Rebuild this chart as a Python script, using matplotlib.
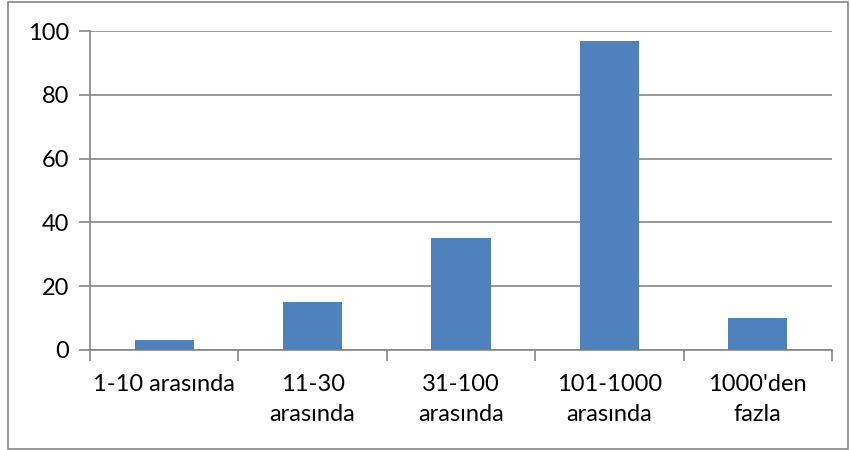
import numpy as np
import matplotlib.pyplot as plt
from matplotlib.patches import Rectangle

# veriler
kategoriler = ["1-10 arasında", "11-30\narasında", "31-100\narasında",
               "101-1000\narasında", "1000'den\nfazla"]
degerler = [3, 15, 35, 97, 10]
y_ticks = [0, 20, 40, 60, 80, 100]

plt.rcParams['font.family'] = ['Lato', 'DejaVu Sans']

fig = plt.figure(figsize=(8.5, 4.5), dpi=100)
ax = fig.add_axes([90 / 850, 1 - 350 / 450, (832 - 90) / 850, (350 - 31) / 450])

x = np.arange(len(kategoriler))
ax.bar(x, degerler, width=0.4, color='#4F81BD', zorder=3)

ax.set_xlim(-0.5, len(kategoriler) - 0.5)
ax.set_ylim(0, 100)
ax.set_yticks(y_ticks)
ax.yaxis.grid(True, color='#868686', linewidth=1.2, zorder=0)

# kategori sinirlarinda tik
ax.set_xticks(x)
ax.set_xticklabels(kategoriler, linespacing=1.55)
ax.set_xticks(np.arange(-0.5, len(kategoriler)), minor=True)
ax.tick_params(axis='x', which='major', length=0, pad=17, labelsize=17)
ax.tick_params(axis='x', which='minor', length=8, width=1.2, color='#868686', direction='out')
ax.tick_params(axis='y', length=8, width=1.2, color='#868686', labelsize=17, pad=7)

for s in ['top', 'right']:
    ax.spines[s].set_visible(False)
for s in ['left', 'bottom']:
    ax.spines[s].set_color('#868686')
    ax.spines[s].set_linewidth(1.2)

# dis cerceve
fig.add_artist(Rectangle((7.5 / 850, 1 / 450), 840 / 850, 447 / 450,
                         transform=fig.transFigure, fill=False,
                         edgecolor='#868686', linewidth=1.2))

fig.savefig('out.png', dpi=100)
